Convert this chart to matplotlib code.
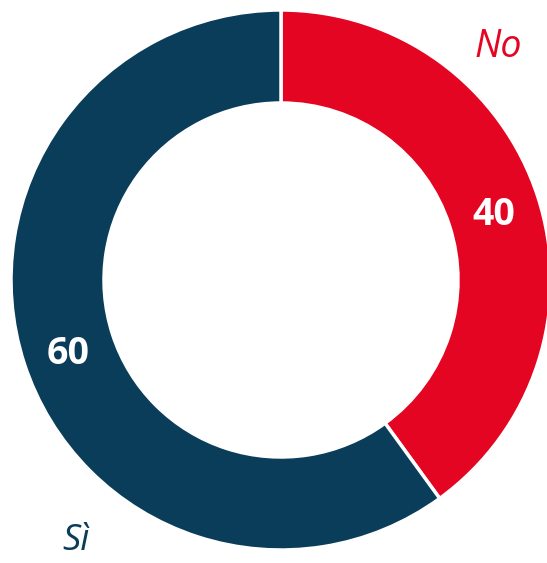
import matplotlib.pyplot as plt

labels = ["No", "Sì"]
values = [40, 60]
colors = ["#E30521", "#0A3D5A"]

W, H = 547, 563
fig = plt.figure(figsize=(W / 100, H / 100), dpi=100)
ax = fig.add_axes([0, 0, 1, 1])

cx, cy, r_out = 281, H - 280, 270
ring = 93

ax.pie(values, colors=colors, startangle=90, counterclock=False,
       center=(cx, cy), radius=r_out,
       wedgeprops=dict(width=ring, edgecolor="white", linewidth=2.5))

ax.set_xlim(0, W)
ax.set_ylim(0, H)
ax.set_aspect("equal")
ax.axis("off")

font = ["Open Sans", "DejaVu Sans"]
# numbers on the ring
ax.text(494, H - 215, str(values[0]), color="white", fontsize=27, fontweight="bold",
        ha="center", va="center", family=font)
ax.text(68, H - 354, str(values[1]), color="white", fontsize=27, fontweight="bold",
        ha="center", va="center", family=font)
# category names outside
ax.text(498, H - 47, labels[0], color=colors[0], fontsize=27, style="italic",
        ha="center", va="center", family=font)
ax.text(76, H - 541, labels[1], color=colors[1], fontsize=26, style="italic",
        ha="center", va="center", family=font)

fig.savefig("out.png", dpi=100)
